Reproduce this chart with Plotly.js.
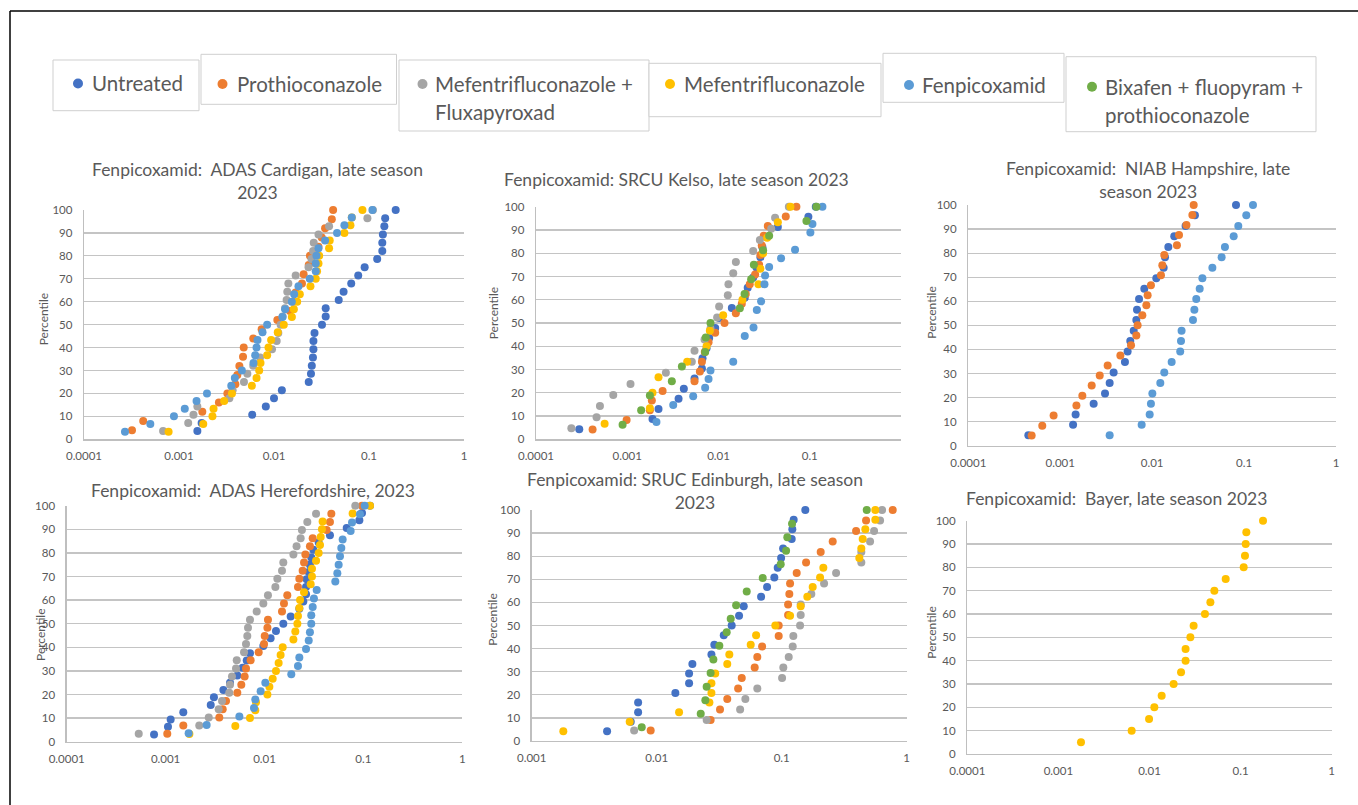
<!DOCTYPE html>
<html><head><meta charset="utf-8">
<script src="https://cdn.plot.ly/plotly-3.0.1.min.js"></script>
<style>html,body{margin:0;padding:0;background:#fff;overflow:hidden;} #chart{width:1358px;height:805px;}</style>
</head><body><div id="chart"></div>
<script>
// ---------- series names / colours ----------
const seriesNames = ['Untreated','Prothioconazole','Mefentrifluconazole + Fluxapyroxad','Mefentrifluconazole','Fenpicoxamid','Bixafen + fluopyram + prothioconazole'];
const seriesColors = ['#4472C4','#ED7D31','#A5A5A5','#FFC000','#5B9BD5','#70AD47'];

// ---------- percentile levels ----------
const P15 = [6.7,13.3,20,26.7,33.3,40,46.7,53.3,60,66.7,73.3,80,86.7,93.3,100];
const P16 = [6.3,12.5,18.8,25,31.3,37.5,43.8,50,56.3,62.5,68.8,75,81.3,87.5,93.8,100];
const P17 = [5.9,11.8,17.6,23.5,29.4,35.3,41.2,47.1,52.9,58.8,64.7,70.6,76.5,82.4,88.2,94.1,100];
const P20 = [5,10,15,20,25,30,35,40,45,50,55,60,65,70,75,80,85,90,95,100];
const P21 = [4.8,9.5,14.3,19,23.8,28.6,33.3,38.1,42.9,47.6,52.4,57.1,61.9,66.7,71.4,76.2,81,85.7,90.5,95.2,100];
const P22 = [4.5,9.1,13.6,18.2,22.7,27.3,31.8,36.4,40.9,45.5,50,54.5,59.1,63.6,68.2,72.7,77.3,81.8,86.4,90.9,95.5,100];
const P23 = [4.3,8.7,13,17.4,21.7,26.1,30.4,34.8,39.1,43.5,47.8,52.2,56.5,60.9,65.2,69.6,73.9,78.3,82.6,87,91.3,95.7,100];
const P24 = [4.2,8.3,12.5,16.7,20.8,25,29.2,33.3,37.5,41.7,45.8,50,54.2,58.3,62.5,66.7,70.8,75,79.2,83.3,87.5,91.7,95.8,100];
const P25 = [4,8,12,16,20,24,28,32,36,40,44,48,52,56,60,64,68,72,76,80,84,88,92,96,100];
const P28 = [3.6,7.1,10.7,14.3,17.9,21.4,25,28.6,32.1,35.7,39.3,42.9,46.4,50,53.6,57.1,60.7,64.3,67.9,71.4,75,78.6,82.1,85.7,89.3,92.9,96.4,100];
const P29 = [3.4,6.9,10.3,13.8,17.2,20.7,24.1,27.6,31,34.5,37.9,41.4,44.8,48.3,51.7,55.2,58.6,62.1,65.5,69,72.4,75.9,79.3,82.8,86.2,89.7,93.1,96.6,100];
const P30 = [3.3,6.7,10,13.3,16.7,20,23.3,26.7,30,33.3,36.7,40,43.3,46.7,50,53.3,56.7,60,63.3,66.7,70,73.3,76.7,80,83.3,86.7,90,93.3,96.7,100];
const P32 = [3.1,6.3,9.4,12.5,15.6,18.8,21.9,25,28.1,31.3,34.4,37.5,40.6,43.8,46.9,50,53.1,56.3,59.4,62.5,65.6,68.8,71.9,75,78.1,81.3,84.4,87.5,90.6,93.8,96.9,100];
const kelsoFenpicY = [7.4,14.8,18.5,22.2,25.9,29.6,33.3,44.4,48.1,55.6,59.3,66.7,70.4,74.1,77.8,81.5,88.9,92.6,100];

// ---------- ADAS Cardigan ----------
const cardiganUntreated = [0.00156,0.00173,0.0059,0.0082,0.0100,0.0121,0.0232,0.0245,0.0250,0.0257,0.0260,0.0260,0.0267,0.0320,0.0350,0.0350,0.0480,0.0540,0.0650,0.0770,0.0900,0.1220,0.1380,0.1380,0.1400,0.1450,0.1480,0.1910];
const cardiganProthio = [0.00032,0.00042,0.00176,0.00263,0.00323,0.00392,0.00411,0.00432,0.00472,0.0048,0.00605,0.00741,0.01084,0.01472,0.01596,0.0169,0.0197,0.0205,0.0232,0.0239,0.0294,0.0318,0.0345,0.0406,0.0419];
const cardiganMefFlux = [0.00068,0.00125,0.00142,0.00156,0.00339,0.00367,0.00483,0.00524,0.00605,0.00713,0.00953,0.01067,0.0111,0.01175,0.01233,0.01306,0.01358,0.0138,0.01416,0.0169,0.0231,0.0248,0.0258,0.0262,0.0294,0.038,0.0962,0.11];
const cardiganMef = [0.000777,0.0018,0.00225,0.00231,0.00299,0.00361,0.00585,0.00655,0.00698,0.00721,0.00847,0.00875,0.00933,0.01096,0.01268,0.01542,0.01618,0.01754,0.0187,0.0242,0.0275,0.0284,0.0294,0.0299,0.038,0.0386,0.0551,0.0638,0.0659,0.0853];
const cardiganFenpic = [0.00027,0.000499,0.000885,0.00115,0.00153,0.00197,0.00355,0.00387,0.00459,0.00608,0.00634,0.00655,0.0067,0.00757,0.00847,0.01227,0.0131,0.0154,0.0163,0.0181,0.0238,0.0275,0.0275,0.028,0.0294,0.0345,0.0461,0.0551,0.0659,0.1086];

// ---------- SRCU Kelso ----------
const kelsoUntreated = [0.000298,0.00189,0.0022,0.00365,0.00417,0.00546,0.00658,0.00668,0.0074,0.0079,0.0092,0.01016,0.014,0.0194,0.0209,0.024,0.0261,0.0288,0.0303,0.0336,0.0447,0.0966,0.1164];
const kelsoProthio = [0.000417,0.000984,0.00177,0.00186,0.00244,0.00546,0.00625,0.00658,0.00708,0.00778,0.0092,0.01164,0.01549,0.018,0.0199,0.022,0.0252,0.0279,0.0288,0.0298,0.0313,0.0347,0.0546,0.0714];
const kelsoMefFlux = [0.000244,0.000461,0.000502,0.000703,0.001086,0.00265,0.0051,0.00546,0.00703,0.00817,0.00966,0.01016,0.01265,0.01285,0.0145,0.0155,0.024,0.0284,0.0378,0.0417,0.059];
const kelsoMef = [0.000565,0.00177,0.00189,0.0022,0.00454,0.0074,0.00804,0.01125,0.0183,0.0274,0.0288,0.0308,0.0341,0.0447,0.0614];
const kelsoFenpic = [0.00209,0.00319,0.00528,0.00714,0.00778,0.00817,0.0145,0.0194,0.0242,0.0263,0.0293,0.0319,0.0324,0.0359,0.0485,0.069,0.1016,0.107,0.1377];
const kelsoBixafen = [0.000889,0.00142,0.00177,0.00308,0.00397,0.00714,0.00726,0.00817,0.01714,0.0193,0.0228,0.0244,0.0308,0.0359,0.092,0.1183];

// ---------- NIAB Hampshire ----------
const hampshireUntreated = [0.00045,0.00138,0.00147,0.00231,0.00307,0.00345,0.00381,0.00506,0.00541,0.00578,0.0063,0.00673,0.00684,0.0072,0.00822,0.0111,0.01334,0.0138,0.015,0.0174,0.0231,0.0292,0.0817];
const hampshireProthio = [0.000489,0.000638,0.000847,0.0015,0.00174,0.0022,0.00269,0.00328,0.00451,0.00589,0.00673,0.00695,0.00782,0.00865,0.00893,0.0097,0.01247,0.0129,0.01355,0.0186,0.0196,0.0236,0.0274,0.0283];
const hampshireFenpic = [0.00345,0.00769,0.0094,0.0097,0.01005,0.01227,0.01355,0.0163,0.0202,0.0206,0.0209,0.0278,0.0288,0.0302,0.0329,0.0352,0.0452,0.057,0.0619,0.0771,0.0865,0.1057,0.125];

// ---------- ADAS Herefordshire ----------
const herefordUntreated = [0.000764,0.001057,0.001125,0.00151,0.00286,0.00308,0.00384,0.00448,0.00531,0.00601,0.00661,0.00713,0.00973,0.01153,0.01306,0.0155,0.0184,0.0225,0.0247,0.0263,0.0263,0.0267,0.028,0.0288,0.0297,0.0312,0.0353,0.0459,0.0678,0.091,0.0968,0.1167];
const herefordProthio = [0.00104,0.00151,0.00349,0.00378,0.00408,0.00531,0.00583,0.0063,0.0065,0.00724,0.00873,0.00989,0.01005,0.0107,0.01084,0.01503,0.01574,0.017,0.0218,0.0225,0.0243,0.0251,0.0259,0.0288,0.0307,0.0425,0.0459,0.0474,0.0968];
const herefordMefFlux = [0.000535,0.00219,0.00273,0.00344,0.00372,0.0044,0.00448,0.00469,0.00515,0.00524,0.00621,0.0065,0.0067,0.00681,0.00713,0.00834,0.00973,0.01084,0.01288,0.01349,0.01503,0.01549,0.0196,0.0211,0.0232,0.0239,0.0271,0.0332,0.0828];
const herefordMef = [0.00174,0.00507,0.00713,0.00807,0.0082,0.0107,0.0112,0.0121,0.01306,0.0139,0.01455,0.01528,0.0196,0.0205,0.0215,0.0218,0.0225,0.0229,0.0251,0.0293,0.0302,0.0302,0.0332,0.0353,0.0364,0.037,0.0381,0.0387,0.0778,0.1167];
const herefordFenpic = [0.00171,0.0026,0.00557,0.00783,0.00807,0.00914,0.01019,0.01866,0.0218,0.0225,0.0263,0.028,0.0288,0.0297,0.0297,0.0307,0.0316,0.0337,0.052,0.0545,0.0562,0.058,0.0598,0.0617,0.0743,0.0767,0.0923,0.103];

// ---------- SRUC Edinburgh ----------
const edinburghUntreated = [0.00401,0.0062,0.0071,0.0071,0.0141,0.01816,0.01816,0.0193,0.0274,0.0289,0.0344,0.0398,0.0456,0.0497,0.0684,0.0764,0.0873,0.0929,0.0989,0.1026,0.1202,0.1216,0.1247,0.1545];
const edinburghProthio = [0.00895,0.027,0.0321,0.0367,0.0448,0.0479,0.0608,0.0638,0.0697,0.0946,0.0946,0.1125,0.1125,0.1151,0.1167,0.1318,0.1567,0.2051,0.2559,0.3936,0.473,0.773];
const edinburghMefFlux = [0.0066,0.0251,0.0465,0.0512,0.0638,0.1007,0.103,0.1138,0.1225,0.1239,0.1403,0.1419,0.1419,0.1726,0.2183,0.2723,0.4335,0.4335,0.5093,0.5483,0.6124,0.6353];
const edinburghMef = [0.00179,0.00608,0.0151,0.0264,0.0274,0.0274,0.0294,0.0367,0.0381,0.0565,0.0624,0.0889,0.1167,0.1419,0.1603,0.177,0.2028,0.2153,0.4178,0.4335,0.4446,0.4667,0.561,0.561];
const edinburghBixafen = [0.00759,0.0225,0.0245,0.0251,0.027,0.0284,0.0317,0.0363,0.0391,0.0432,0.0525,0.0705,0.0982,0.1084,0.1109,0.121,0.479];

// ---------- Bayer ----------
const bayerMef = [0.00177,0.00637,0.00989,0.0113,0.0136,0.0184,0.0222,0.0249,0.0249,0.0281,0.0305,0.0406,0.0466,0.0515,0.0686,0.1081,0.1117,0.1138,0.1156,0.1762];

// ---------- ticks & titles ----------
const xTickVals = [0.0001,0.001,0.01,0.1,1];
const xTickText = ['0.0001','0.001','0.01','0.1','1'];
const xTickTextKelso = ['0.0001','0.001','0.01','0.1',''];
const xTickValsEdinburgh = [0.001,0.01,0.1,1];
const xTickTextEdinburgh = ['0.001','0.01','0.1','1'];
const yTickVals = [0,10,20,30,40,50,60,70,80,90,100];
const panelTitles = [
  'Fenpicoxamid:  ADAS Cardigan, late season<br>2023',
  'Fenpicoxamid: SRCU Kelso, late season 2023',
  'Fenpicoxamid:  NIAB Hampshire, late<br>season 2023',
  'Fenpicoxamid:  ADAS Herefordshire, 2023',
  'Fenpicoxamid: SRUC Edinburgh, late season<br>2023',
  'Fenpicoxamid:  Bayer, late season 2023'
];
const yTitle = 'Percentile';

// ---------- panels (series index, x, y) ----------
const panels = [
  [[0,cardiganUntreated,P28],[1,cardiganProthio,P25],[2,cardiganMefFlux,P28],[3,cardiganMef,P30],[4,cardiganFenpic,P30]],
  [[0,kelsoUntreated,P23],[1,kelsoProthio,P24],[2,kelsoMefFlux,P21],[3,kelsoMef,P15],[4,kelsoFenpic,kelsoFenpicY],[5,kelsoBixafen,P16]],
  [[0,hampshireUntreated,P23],[1,hampshireProthio,P24],[4,hampshireFenpic,P23]],
  [[0,herefordUntreated,P32],[1,herefordProthio,P29],[2,herefordMefFlux,P29],[3,herefordMef,P30],[4,herefordFenpic,P28]],
  [[0,edinburghUntreated,P24],[1,edinburghProthio,P22],[2,edinburghMefFlux,P22],[3,edinburghMef,P24],[5,edinburghBixafen,P17]],
  [[3,bayerMef,P20]]
];

// ---------- layout geometry (pixels) ----------
const W = 1358, H = 805;
const FONT = 'Lato, "Open Sans", sans-serif';
const GREY = '#595959';
// [left, right, top(100), bottom(0)] of each plot area
const boxes = [
  [84, 464, 210, 439.3],
  [536, 901, 206.7, 439.3],
  [968.3, 1336, 205, 445.7],
  [66.7, 462.3, 505.7, 741.7],
  [531.7, 906.7, 510, 741],
  [967.3, 1331.7, 520.7, 754]
];
const xRanges = [[-4,0],[-4,0],[-4,0],[-4,0],[-3,0],[-4,0]];
const titlePos = [[257.7,181],[676,179.3],[1148.3,180],[252.7,490],[695,490.5],[1116.7,498.3]];
const yTitlePos = [[43.3,319],[493.3,313],[930.7,313],[40,635],[491.7,620],[930.7,633]];

const px = v => v / W;
const py = v => 1 - v / H;

const traces = [];
panels.forEach((panel, i) => {
  const ax = i + 1;
  panel.forEach(([s, xs, ys]) => {
    traces.push({
      type: 'scatter', mode: 'markers', x: xs, y: ys,
      xaxis: 'x' + ax, yaxis: 'y' + ax, name: seriesNames[s],
      marker: { color: seriesColors[s], size: 8, line: { width: 0 } },
      showlegend: false, cliponaxis: false, hoverinfo: 'x+y+name'
    });
  });
});

const layout = {
  width: W, height: H,
  margin: { l: 0, r: 0, t: 0, b: 0 },
  paper_bgcolor: '#ffffff', plot_bgcolor: 'rgba(0,0,0,0)',
  showlegend: false,
  font: { family: FONT, color: GREY },
  annotations: [], shapes: []
};

boxes.forEach((b, i) => {
  const ax = i + 1;
  let tv = xTickVals, tt = xTickText;
  if (i === 1) tt = xTickTextKelso;
  if (i === 4) { tv = xTickValsEdinburgh; tt = xTickTextEdinburgh; }
  layout['xaxis' + ax] = {
    type: 'log', range: xRanges[i], domain: [px(b[0]), px(b[1])], anchor: 'y' + ax,
    tickvals: tv, ticktext: tt, showgrid: false, zeroline: false,
    showline: true, linecolor: '#BFBFBF', linewidth: 1.3, ticks: '',
    ticklabelstandoff: 6, tickfont: { family: FONT, size: 11.5, color: GREY }, fixedrange: true
  };
  layout['yaxis' + ax] = {
    range: [0, 100], domain: [py(b[3]), py(b[2])], anchor: 'x' + ax,
    tickvals: yTickVals, showgrid: true, gridcolor: '#C4C4C4', gridwidth: 1.2,
    zeroline: false, showline: true, linecolor: '#BFBFBF', linewidth: 1.3, ticks: '',
    ticklabelstandoff: 8, tickfont: { family: FONT, size: 11.5, color: GREY }, fixedrange: true
  };
  layout.annotations.push({
    xref: 'paper', yref: 'paper', x: px(titlePos[i][0]), y: py(titlePos[i][1]),
    xanchor: 'center', yanchor: 'middle', showarrow: false, text: panelTitles[i],
    font: { family: FONT, size: 17.5, color: GREY }
  });
  layout.annotations.push({
    xref: 'paper', yref: 'paper', x: px(yTitlePos[i][0]), y: py(yTitlePos[i][1]),
    xanchor: 'center', yanchor: 'middle', showarrow: false, text: yTitle, textangle: -90,
    font: { family: FONT, size: 12, color: GREY }
  });
});

// ---------- legend boxes (shapes + text) ----------
// [series index, box left, top, right, bottom, marker x, marker y, text lines, text x, first line y]
const legendBoxes = [
  [0, 53, 60, 199, 110.7, 78, 83.5, ['Untreated'], 90, 83.5],
  [1, 201, 54.3, 396.5, 104.3, 222.5, 84, ['Prothioconazole'], 235, 84],
  [2, 399, 60, 649, 131, 422.5, 84, ['Mefentrifluconazole +', 'Fluxapyroxad'], 433, 84],
  [3, 649, 63.3, 881, 116.7, 670, 84, ['Mefentrifluconazole'], 682, 84],
  [4, 883, 53.3, 1064, 102.3, 909, 85, ['Fenpicoxamid'], 920, 85],
  [5, 1066, 56.7, 1316, 131.7, 1092, 86.7, ['Bixafen + fluopyram +', 'prothioconazole'], 1103, 86.7]
];
legendBoxes.forEach(([s, l, t, r, bt, mx, my, lines, tx, ty]) => {
  layout.shapes.push({ type: 'rect', xref: 'paper', yref: 'paper', x0: px(l), x1: px(r), y0: py(bt), y1: py(t),
    line: { color: '#CFCFCF', width: 1 }, fillcolor: '#ffffff', layer: 'below' });
  layout.shapes.push({ type: 'circle', xref: 'paper', yref: 'paper', x0: px(mx - 5), x1: px(mx + 5), y0: py(my + 5), y1: py(my - 5),
    line: { width: 0 }, fillcolor: seriesColors[s] });
  lines.forEach((ln, k) => {
    layout.annotations.push({ xref: 'paper', yref: 'paper', x: px(tx), y: py(ty + k * 28),
      xanchor: 'left', yanchor: 'middle', showarrow: false, text: ln,
      font: { family: FONT, size: 20.5, color: GREY } });
  });
});

// ---------- outer frame ----------
layout.shapes.push({ type: 'line', xref: 'paper', yref: 'paper', x0: px(10), x1: px(1358), y0: py(11), y1: py(11), line: { color: '#000000', width: 1.5 } });
layout.shapes.push({ type: 'line', xref: 'paper', yref: 'paper', x0: px(10), x1: px(10), y0: py(11), y1: py(805), line: { color: '#000000', width: 1.5 } });

Plotly.newPlot('chart', traces, layout, { displayModeBar: false, staticPlot: true });
</script></body></html>
